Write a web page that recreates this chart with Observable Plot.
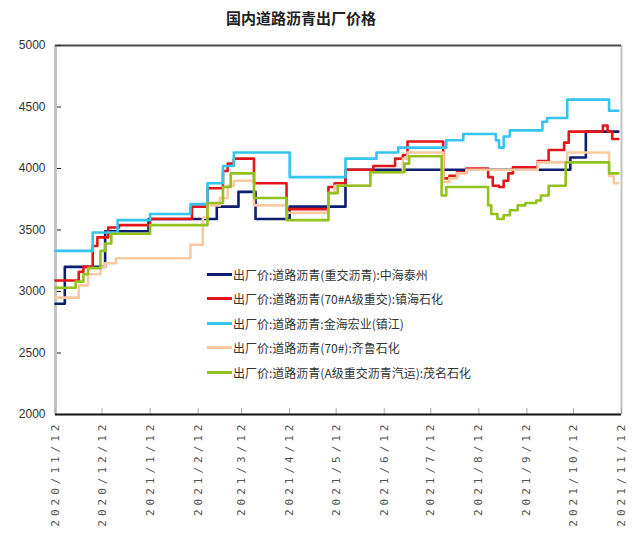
<!DOCTYPE html>
<html>
<head>
<meta charset="utf-8">
<script src="https://cdn.jsdelivr.net/npm/d3@7"></script>
<script src="https://cdn.jsdelivr.net/npm/@observablehq/plot@0.6"></script>
<style>
body{margin:0;background:#fff;font-family:"Noto Sans CJK SC",sans-serif;}
#wrap{position:relative;width:635px;height:544px;overflow:hidden;}
#title{position:absolute;left:0;top:6px;width:602px;text-align:center;font-size:15px;line-height:24px;font-weight:bold;color:#222;}
#chart{position:absolute;left:0;top:36px;}
#legend{position:absolute;left:207px;top:262px;}
.row{display:flex;align-items:center;height:24.5px;font-size:12px;color:#333;white-space:nowrap;}
.sw{width:25px;height:3px;margin-right:1px;}
g[aria-label="x-axis tick label"] text{letter-spacing:4px;}
</style>
</head>
<body>
<div id="wrap">
  <div id="title">国内道路沥青出厂价格</div>
  <div id="chart"></div>
  <div id="legend"></div>
</div>
<script>
// ---- data ----
const seriesNames = [
  "出厂价:道路沥青(重交沥青):中海泰州",
  "出厂价:道路沥青(70#A级重交):镇海石化",
  "出厂价:道路沥青:金海宏业(镇江)",
  "出厂价:道路沥青(70#):齐鲁石化",
  "出厂价:道路沥青(A级重交沥青汽运):茂名石化"
];
const seriesColors = ["#0f1d6e", "#e3161c", "#35c4ee", "#f9c9a1", "#93c11f"];

const navyDates = ["2020-11-12","2020-11-18","2020-12-14","2021-01-11","2021-02-24","2021-03-10","2021-03-21","2021-04-12","2021-05-18","2021-10-10","2021-10-20","2021-11-10"];
const navyValues = [2900,3200,3490,3590,3690,3810,3590,3690,3990,4090,4300,4300];

const redDates = ["2020-11-12","2020-11-27","2020-11-30","2020-12-06","2020-12-09","2020-12-16","2020-12-23","2021-01-12","2021-02-08","2021-02-18","2021-02-28","2021-03-03","2021-03-07","2021-03-20","2021-04-10","2021-05-07","2021-05-11","2021-05-18","2021-06-05","2021-06-19","2021-06-24","2021-06-27","2021-07-20","2021-07-24","2021-07-29","2021-08-04","2021-08-18","2021-08-21","2021-08-25","2021-08-28","2021-08-31","2021-09-03","2021-09-19","2021-09-26","2021-10-06","2021-10-09","2021-10-31","2021-11-03","2021-11-06","2021-11-10"];
const redValues = [3090,3160,3200,3370,3440,3520,3540,3590,3690,3840,3980,4040,4080,3880,3670,3850,3880,3990,4020,4080,4110,4220,3920,3940,3970,4000,3930,3860,3850,3900,3960,4010,4060,4150,4210,4300,4350,4300,4240,4240];

const cyanDates = ["2020-11-12","2020-12-06","2020-12-22","2021-01-12","2021-02-07","2021-02-18","2021-02-28","2021-03-07","2021-04-12","2021-05-18","2021-06-07","2021-06-21","2021-07-22","2021-08-02","2021-08-23","2021-08-25","2021-08-28","2021-09-01","2021-09-22","2021-09-25","2021-10-08","2021-11-04","2021-11-10"];
const cyanValues = [3330,3480,3580,3630,3710,3880,4020,4130,3930,4080,4130,4170,4230,4280,4230,4170,4260,4310,4380,4410,4560,4470,4470];

const peachDates = ["2020-11-12","2020-11-27","2020-12-03","2020-12-11","2020-12-14","2020-12-21","2021-02-07","2021-02-15","2021-02-18","2021-02-26","2021-03-03","2021-03-07","2021-03-20","2021-04-10","2021-05-07","2021-05-11","2021-06-03","2021-06-24","2021-06-27","2021-07-20","2021-07-24","2021-07-29","2021-08-04","2021-09-19","2021-10-08","2021-11-04","2021-11-07","2021-11-10"];
const peachValues = [2950,3050,3140,3200,3230,3270,3380,3600,3700,3760,3860,3900,3700,3640,3800,3860,3970,4080,4130,3890,3920,3960,3990,4050,4130,3940,3880,3880];

const greenDates = ["2020-11-12","2020-11-25","2020-11-30","2020-12-03","2020-12-11","2020-12-14","2020-12-18","2021-01-12","2021-02-18","2021-02-28","2021-03-05","2021-03-20","2021-04-10","2021-05-07","2021-05-13","2021-06-03","2021-06-25","2021-06-28","2021-07-19","2021-07-22","2021-08-18","2021-08-20","2021-08-24","2021-08-28","2021-09-01","2021-09-06","2021-09-11","2021-09-18","2021-09-21","2021-09-26","2021-10-07","2021-11-04","2021-11-10"];
const greenValues = [3030,3080,3140,3190,3330,3390,3470,3540,3720,3850,3960,3760,3580,3800,3860,3970,4040,4100,3780,3850,3700,3630,3590,3620,3660,3700,3720,3740,3780,3860,4050,3960,3960];

const xTickLabels = ["2020/11/12","2020/12/12","2021/1/12","2021/2/12","2021/3/12","2021/4/12","2021/5/12","2021/6/12","2021/7/12","2021/8/12","2021/9/12","2021/10/12","2021/11/12"];
const yTicks = [2000,2500,3000,3500,4000,4500,5000];

// ---- build ----
const parse = s => { const [y,m,d] = s.split(/[-\/]/).map(Number); return new Date(Date.UTC(y, m - 1, d)); };
const xTickDates = xTickLabels.map(parse);
const labelByTime = new Map(xTickDates.map((d, i) => [+d, xTickLabels[i]]));
const xDomain = [xTickDates[0], xTickDates[xTickDates.length - 1]];
const yDomain = [yTicks[0], yTicks[yTicks.length - 1]];

const seriesData = [
  [navyDates, navyValues],
  [redDates, redValues],
  [cyanDates, cyanValues],
  [peachDates, peachValues],
  [greenDates, greenValues]
];
const rows = seriesData.flatMap(([ds, vs], k) => ds.map((d, i) => ({series: seriesNames[k], date: parse(d), value: vs[i]})));

const W = 635, H = 508;
const mL = 55, mR = 14, mT = 9, mB = 130;
const plotW = W - mL - mR, plotH = H - mT - mB;

const chart = Plot.plot({
  width: W, height: H,
  marginLeft: mL, marginRight: mR, marginTop: mT, marginBottom: mB,
  style: {fontFamily: "Liberation Sans, Arial, sans-serif", background: "#fff"},
  x: {type: "utc", domain: xDomain},
  y: {domain: yDomain},
  color: {domain: seriesNames, range: seriesColors},
  marks: [
    Plot.ruleX([xDomain[0]], {stroke: "#c4c4c4", strokeWidth: 3}),
    Plot.ruleX([xDomain[1]], {stroke: "#c4c4c4", strokeWidth: 2}),
    Plot.ruleY([yDomain[1]], {stroke: "#4a4a4a", strokeWidth: 2}),
    Plot.tickX(xTickDates, {x: d => d, stroke: "#aaa", insetTop: plotH - 6}),
    Plot.tickY(yTicks, {y: d => d, stroke: "#222", insetRight: plotW - 6, insetLeft: 2}),
    Plot.line(rows, {x: "date", y: "value", z: "series", stroke: "series", curve: "step-after", strokeWidth: 2.6}),
    Plot.ruleY([yDomain[0]], {stroke: "#111", strokeWidth: 2}),
    Plot.axisX({ticks: xTickDates, tickFormat: d => labelByTime.get(+d), tickRotate: -90, tickSize: 0, tickPadding: 6, fontSize: 11, fontFamily: "DejaVu Sans Mono, monospace", fill: "#555", label: null}),
    Plot.axisY({ticks: yTicks, tickFormat: d3.format("d"), tickSize: 0, tickPadding: 10, fontSize: 12, fill: "#333", label: null})
  ]
});
document.getElementById("chart").appendChild(chart);

const legend = document.getElementById("legend");
seriesNames.forEach((n, i) => {
  const row = document.createElement("div");
  row.className = "row";
  const sw = document.createElement("span");
  sw.className = "sw";
  sw.style.background = seriesColors[i];
  const tx = document.createElement("span");
  tx.textContent = n;
  row.appendChild(sw); row.appendChild(tx);
  legend.appendChild(row);
});
</script>
</body>
</html>
